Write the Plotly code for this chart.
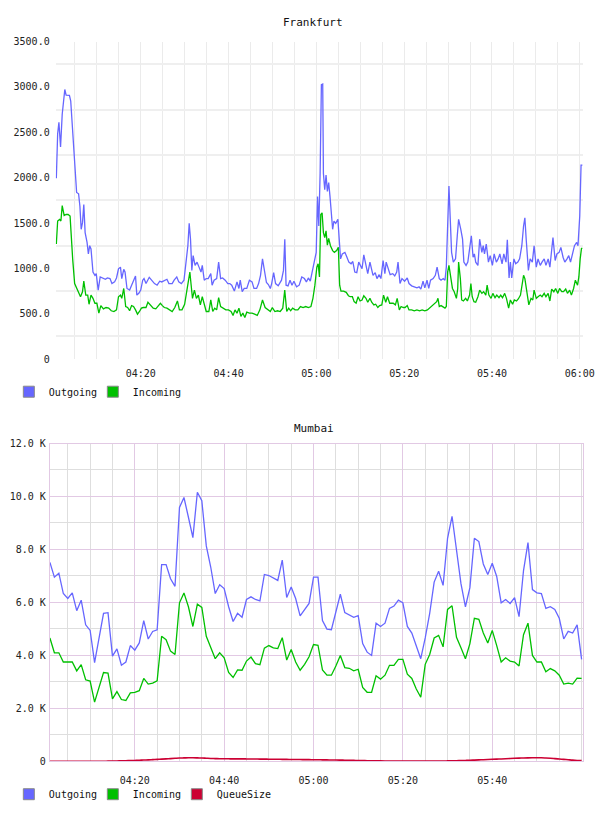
import plotly.graph_objects as go
from datetime import datetime, timedelta

# ---------------------------------------------------------------- data
BASE = datetime(2013, 1, 1, 4, 0)

# Frankfurt - minutes after 04:00 and values
fra_out_min = [
    0.75, 1.05, 1.34, 1.71, 2.09, 2.68, 2.98, 3.73, 4.03, 4.47,
    4.77, 5.07, 5.37, 5.82, 6.12, 6.41, 6.71, 7.01, 7.31, 7.75,
    8.05, 8.35, 8.65, 9.10, 9.54, 9.84, 10.29, 10.74, 11.41, 11.93,
    12.38, 12.97, 13.42, 14.02, 14.46, 14.91, 15.36, 15.66, 16.11, 16.40,
    16.85, 17.45, 17.90, 18.34, 18.79, 19.09, 19.54, 19.98, 20.43, 20.73,
    21.18, 21.92, 22.52, 23.12, 23.71, 24.31, 24.76, 25.35, 25.95, 26.40,
    27.14, 27.59, 28.19, 28.64, 29.23, 29.83, 30.28, 30.72, 31.02, 31.32,
    31.62, 31.92, 32.36, 32.81, 33.26, 33.71, 34.00, 34.45, 34.90, 35.35,
    35.94, 36.24, 36.69, 37.28, 37.73, 38.18, 38.63, 39.22, 39.82, 40.27,
    40.71, 41.31, 41.91, 42.35, 42.65, 43.10, 43.55, 44.14, 44.74, 45.34,
    45.78, 46.38, 46.83, 47.27, 47.72, 48.17, 48.62, 49.06, 49.51, 49.81,
    50.26, 50.70, 51.30, 52.05, 52.50, 52.80, 53.09, 53.54, 53.99, 54.44,
    54.88, 55.48, 56.08, 56.67, 57.27, 57.72, 58.17, 58.61, 59.06, 59.51,
    59.96, 60.26, 60.55, 60.85, 61.14, 61.44, 61.60, 61.90, 62.20, 62.50,
    62.80, 63.10, 63.40, 63.70, 64.00, 64.40, 64.90, 65.20, 65.50, 65.90,
    66.50, 66.96, 67.40, 67.90, 68.30, 68.75, 69.20, 69.65, 69.95, 70.40,
    70.80, 71.30, 71.70, 72.20, 72.60, 72.90, 73.40, 73.80, 74.30, 74.70,
    75.20, 75.60, 75.90, 76.40, 76.80, 77.40, 77.85, 78.30, 78.60, 79.05,
    79.50, 80.10, 80.70, 81.10, 81.70, 82.30, 82.90, 83.40, 83.80, 84.30,
    84.70, 85.20, 85.60, 86.00, 86.60, 87.10, 87.50, 88.00, 88.40, 88.90,
    89.30, 89.60, 89.90, 90.20, 90.50, 90.80, 91.20, 91.70, 92.10, 92.40,
    92.90, 93.30, 93.60, 94.10, 94.50, 95.00, 95.30, 95.70, 96.00, 96.30,
    96.80, 97.20, 97.70, 98.00, 98.30, 98.70, 99.20, 99.60, 100.10, 100.50,
    101.00, 101.40, 101.80, 102.30, 102.70, 103.20, 103.50, 103.90, 104.20, 104.50,
    105.00, 105.40, 105.90, 106.30, 106.80, 107.20, 107.50, 107.80, 108.30, 108.70,
    109.20, 109.60, 110.10, 110.50, 111.00, 111.40, 111.90, 112.30, 112.80, 113.20,
    113.50, 113.90, 114.40, 114.80, 115.30, 115.70, 116.20, 116.60, 117.10, 117.50,
    117.90, 118.40, 118.80, 119.30, 119.60, 120.00, 120.30, 120.60,
]
fra_out_val = [
    1993, 2482, 2609, 2337, 2699, 2971, 2909, 2906, 2844, 2482,
    2337, 2047, 1837, 1822, 1685, 1431, 1504, 1703, 1395, 1286,
    1159, 1250, 1214, 960, 924, 942, 761, 906, 895, 880,
    895, 888, 833, 851, 895, 996, 1014, 888, 989, 960,
    779, 761, 815, 859, 917, 706, 725, 761, 870, 888,
    833, 902, 870, 833, 815, 859, 851, 870, 880, 833,
    833, 870, 906, 851, 833, 870, 1069, 1250, 1496, 1322,
    978, 1141, 1033, 1069, 1014, 960, 1033, 870, 888, 888,
    942, 815, 870, 888, 1069, 888, 895, 870, 833, 833,
    815, 750, 851, 779, 870, 743, 779, 779, 870, 851,
    779, 779, 833, 924, 1105, 953, 844, 822, 779, 833,
    953, 833, 808, 870, 978, 1322, 815, 808, 870, 815,
    859, 797, 815, 906, 888, 851, 895, 859, 960, 1069,
    1177, 1793, 1467, 2047, 3025, 3032, 2047, 1866, 2029, 1848,
    1946, 1793, 1612, 1431, 1522, 1496, 1540, 1322, 1105, 1159,
    1177, 1123, 1069, 1051, 1076, 960, 953, 1069, 1033, 996,
    1149, 1051, 942, 1069, 996, 924, 953, 888, 931, 888,
    1087, 942, 1069, 978, 931, 942, 917, 960, 1069, 833,
    888, 859, 895, 833, 808, 797, 786, 797, 772, 859,
    786, 870, 779, 870, 888, 924, 1014, 888, 870, 888,
    870, 1014, 1540, 1909, 1540, 1177, 1069, 1105, 1359, 1540,
    1431, 1322, 1069, 1033, 1069, 1250, 1359, 1123, 1159, 1069,
    1033, 1322, 1177, 1250, 1159, 1268, 1069, 1141, 1033, 1159,
    1069, 1105, 1159, 1051, 1159, 1069, 1315, 895, 1069, 895,
    1105, 1051, 1069, 1105, 1250, 1467, 1558, 1322, 978, 1105,
    1069, 1250, 1014, 1105, 1033, 1069, 1105, 1033, 1105, 1014,
    1177, 1340, 1087, 1159, 1177, 1232, 1123, 1069, 1105, 1141,
    1069, 1159, 1250, 1286, 1250, 1576, 2138, 2138,
]

fra_in_min = [
    0.75, 1.05, 1.49, 1.79, 2.09, 2.53, 2.98, 3.43, 3.88, 4.18,
    4.47, 4.92, 5.37, 5.82, 6.26, 6.71, 7.01, 7.46, 7.90, 8.20,
    8.65, 9.10, 9.54, 9.99, 10.44, 10.89, 11.48, 12.08, 12.68, 13.27,
    13.87, 14.46, 14.91, 15.36, 15.66, 16.11, 16.55, 17.00, 17.45, 17.90,
    18.34, 18.79, 19.24, 19.69, 20.13, 20.58, 21.18, 21.62, 22.22, 22.82,
    23.41, 23.86, 24.46, 24.91, 25.35, 25.95, 26.55, 27.14, 27.74, 28.34,
    28.79, 29.38, 29.98, 30.43, 30.87, 31.17, 31.47, 31.77, 32.21, 32.66,
    33.11, 33.56, 34.00, 34.45, 34.90, 35.50, 35.94, 36.39, 36.84, 37.28,
    37.73, 38.18, 38.78, 39.37, 39.97, 40.56, 41.01, 41.46, 41.91, 42.35,
    42.80, 43.25, 43.70, 44.14, 44.74, 45.34, 45.93, 46.53, 47.12, 47.72,
    48.32, 48.91, 49.51, 49.96, 50.55, 51.15, 51.75, 52.34, 52.79, 53.24,
    53.69, 54.14, 54.58, 55.18, 55.78, 56.37, 56.97, 57.57, 58.17, 58.76,
    59.21, 59.66, 60.10, 60.40, 60.70, 61.00, 61.30, 61.60, 61.90, 62.20,
    62.50, 62.80, 63.20, 63.70, 64.10, 64.60, 65.00, 65.30, 65.60, 66.20,
    66.80, 67.30, 67.70, 68.20, 68.60, 69.05, 69.50, 69.95, 70.40, 70.80,
    71.30, 71.70, 72.20, 72.60, 73.10, 73.50, 74.00, 74.40, 74.90, 75.30,
    75.80, 76.20, 76.70, 77.10, 77.50, 78.00, 78.40, 78.90, 79.30, 79.80,
    80.20, 80.70, 81.10, 81.70, 82.30, 82.90, 83.50, 84.10, 84.70, 85.30,
    85.90, 86.50, 86.90, 87.40, 87.70, 88.00, 88.40, 88.90, 89.30, 89.60,
    89.90, 90.20, 90.50, 91.00, 91.40, 91.90, 92.20, 92.40, 92.80, 93.10,
    93.50, 94.00, 94.40, 94.90, 95.20, 95.50, 95.90, 96.30, 96.80, 97.20,
    97.70, 98.10, 98.60, 98.90, 99.30, 99.80, 100.20, 100.70, 101.10, 101.60,
    102.00, 102.40, 102.90, 103.30, 103.80, 104.20, 104.70, 105.10, 105.60, 106.00,
    106.50, 106.90, 107.20, 107.50, 108.00, 108.40, 108.90, 109.30, 109.60, 110.10,
    110.50, 111.00, 111.40, 111.90, 112.30, 112.80, 113.20, 113.60, 114.10, 114.50,
    115.00, 115.40, 115.90, 116.30, 116.80, 117.20, 117.70, 118.10, 118.60, 119.00,
    119.50, 119.80, 120.10, 120.40, 120.60,
]
fra_in_val = [
    1268, 1522, 1540, 1522, 1692, 1583, 1594, 1594, 1576, 1250,
    1105, 833, 786, 743, 688, 743, 859, 706, 706, 605,
    706, 670, 616, 616, 507, 590, 554, 569, 562, 533,
    525, 543, 688, 706, 670, 779, 580, 569, 533, 590,
    580, 543, 496, 525, 562, 569, 569, 627, 590, 562,
    554, 580, 616, 590, 569, 562, 543, 525, 569, 641,
    543, 543, 605, 743, 888, 960, 815, 670, 761, 670,
    706, 598, 688, 598, 525, 525, 652, 525, 562, 543,
    677, 580, 562, 543, 543, 525, 482, 543, 507, 562,
    471, 507, 460, 518, 507, 507, 496, 482, 543, 652,
    569, 543, 525, 569, 525, 533, 525, 562, 761, 525,
    562, 533, 562, 543, 543, 580, 569, 580, 569, 580,
    670, 815, 1014, 1051, 906, 1594, 1612, 1395, 1340, 1413,
    1257, 1330, 1250, 1196, 1177, 1196, 1232, 815, 750, 750,
    736, 699, 688, 688, 634, 616, 688, 641, 652, 699,
    670, 627, 670, 627, 598, 605, 569, 590, 598, 706,
    627, 688, 616, 616, 616, 598, 670, 543, 580, 569,
    569, 590, 543, 543, 533, 543, 533, 543, 533, 543,
    569, 598, 616, 634, 670, 580, 590, 569, 562, 580,
    960, 1033, 924, 779, 743, 670, 779, 1069, 888, 652,
    641, 670, 641, 706, 833, 688, 634, 627, 688, 761,
    725, 743, 706, 815, 706, 670, 725, 677, 706, 677,
    706, 677, 725, 670, 562, 652, 605, 652, 641, 663,
    706, 815, 924, 888, 743, 598, 670, 652, 761, 670,
    688, 706, 688, 725, 688, 725, 641, 772, 743, 779,
    725, 779, 743, 743, 772, 725, 761, 706, 779, 870,
    815, 906, 1105, 1221, 1221,
]

# Mumbai - one sample per minute starting 04:01
mum_start_min = 1
mum_out = [
    7514, 6955, 7104, 6335, 6148, 6360, 5689, 6086, 5155, 4943,
    3726, 4595, 5589, 5614, 3974, 4248, 3627, 3751, 4372, 4198,
    4471, 5316, 4620, 4906, 4968, 7427, 7427, 6893, 6608, 9588,
    9961, 9216, 8446, 10160, 9837, 8135, 7328, 6335, 6670, 6521,
    5837, 5279, 5589, 5440, 6111, 6210, 6111, 6061, 7055, 7017,
    6930, 6831, 7601, 6185, 6583, 6148, 5490, 5713, 5962, 6955,
    6955, 5320, 4993, 4968, 5651, 6309, 5614, 5527, 5440, 5502,
    4446, 4123, 3999, 5216, 5092, 5216, 5775, 5862, 6086, 5986,
    5092, 4844, 4372, 3875, 4658, 5589, 6769, 7179, 6645, 8421,
    9253, 7887, 6707, 5837, 6558, 8421, 8297, 7452, 7055, 7477,
    6980, 5986, 6111, 5962, 6185, 5465, 7204, 8259, 6483, 6360,
    6335, 5775, 5837, 5738, 5403, 4620, 4906, 4844, 5155, 3850,
]
mum_in = [
    4658, 4099, 4099, 3751, 3751, 3751, 3416, 3652, 3080, 3031,
    2236, 2795, 3354, 3329, 2360, 2633, 2335, 2298, 2583, 2608,
    2670, 3130, 2919, 2956, 3043, 4720, 4595, 4161, 4037, 5986,
    6360, 5837, 5092, 5937, 5813, 4720, 4285, 3875, 4099, 3912,
    3354, 3167, 3453, 3440, 3788, 3937, 3689, 3652, 4273, 4372,
    4285, 4260, 4670, 3825, 4223, 3751, 3440, 3664, 3950, 4409,
    4384, 3450, 3254, 3254, 3602, 3999, 3540, 3515, 3416, 3478,
    2795, 2608, 2608, 3229, 3105, 3254, 3627, 3627, 3850, 3850,
    3291, 3130, 2732, 2422, 3664, 4037, 4658, 4757, 4322, 5738,
    5875, 4682, 4285, 3875, 4446, 5403, 5365, 4844, 4471, 4943,
    4372, 3751, 3912, 3788, 3751, 3602, 4782, 5216, 3999, 3751,
    3751, 3379, 3503, 3416, 3254, 2919, 2956, 2919, 3142, 3130,
]
mum_queue = [
    5, 5, 5, 5, 5, 5, 5, 5, 5, 5,
    5, 5, 5, 8, 10, 15, 20, 25, 30, 35,
    40, 50, 55, 65, 75, 85, 95, 105, 115, 125,
    130, 135, 135, 130, 125, 118, 110, 105, 100, 98,
    96, 95, 95, 94, 92, 90, 88, 86, 84, 82,
    80, 78, 76, 74, 72, 70, 68, 66, 64, 62,
    60, 58, 55, 52, 50, 47, 44, 40, 36, 32,
    28, 25, 22, 20, 18, 16, 15, 14, 13, 12,
    12, 12, 12, 12, 12, 12, 13, 14, 15, 17,
    20, 25, 30, 35, 40, 48, 55, 62, 70, 78,
    85, 92, 100, 108, 115, 122, 128, 133, 136, 137,
    135, 128, 118, 105, 90, 75, 60, 45, 35, 28,
]

series_names = ["Outgoing", "Incoming", "QueueSize"]

fra_y_ticks = [0, 500, 1000, 1500, 2000, 2500, 3000, 3500]
fra_y_labels = ["0", "500.0", "1000.0", "1500.0", "2000.0", "2500.0", "3000.0", "3500.0"]
fra_x_tick_min = [20, 40, 60, 80, 100, 120]
fra_x_labels = ["04:20", "04:40", "05:00", "05:20", "05:40", "06:00"]

mum_y_ticks = [0, 2000, 4000, 6000, 8000, 10000, 12000]
mum_y_labels = ["0", "2.0 K", "4.0 K", "6.0 K", "8.0 K", "10.0 K", "12.0 K"]
mum_x_tick_min = [20, 40, 60, 80, 100]
mum_x_labels = ["04:20", "04:40", "05:00", "05:20", "05:40"]

# ---------------------------------------------------------------- style
W, H = 608, 816
MONO = "DejaVu Sans Mono"
BLUE = "#6666ff"
GREEN = "#00c000"
RED = "#cc0033"
FRA_GRID = "#ebebeb"
MUM_MAJOR = "#e2c9e4"
MUM_MINOR = "#dedede"


def at(m):
    return BASE + timedelta(minutes=m)


def ts(mins):
    return [at(m) for m in mins]


def fx(p):
    return p / W


def fy(p):
    return 1 - p / H


fig = go.Figure()

# Frankfurt lines
fig.add_trace(go.Scatter(x=ts(fra_out_min), y=fra_out_val, mode="lines",
                         line=dict(color=BLUE, width=1.3), showlegend=False,
                         xaxis="x", yaxis="y", hoverinfo="skip"))
fig.add_trace(go.Scatter(x=ts(fra_in_min), y=fra_in_val, mode="lines",
                         line=dict(color=GREEN, width=1.3), showlegend=False,
                         xaxis="x", yaxis="y", hoverinfo="skip"))

# Mumbai lines
mum_t = ts([mum_start_min + i for i in range(len(mum_out))])
fig.add_trace(go.Scatter(x=mum_t, y=mum_out, mode="lines",
                         line=dict(color=BLUE, width=1.3), showlegend=False,
                         xaxis="x2", yaxis="y2", hoverinfo="skip"))
fig.add_trace(go.Scatter(x=mum_t, y=mum_in, mode="lines",
                         line=dict(color=GREEN, width=1.3), showlegend=False,
                         xaxis="x2", yaxis="y2", hoverinfo="skip"))
fig.add_trace(go.Scatter(x=mum_t, y=mum_queue, mode="lines",
                         line=dict(color=RED, width=1.6, shape="spline"), showlegend=False,
                         xaxis="x2", yaxis="y2", hoverinfo="skip"))

# legend swatches (square boxes like the original)
fra_leg = list(zip(series_names[:2], [BLUE, GREEN]))
for i, (name, col) in enumerate(fra_leg):
    fig.add_trace(go.Scatter(x=[None], y=[None], mode="markers", name=name,
                             marker=dict(symbol="square", size=11, color=col,
                                         line=dict(color="#8a8a8a", width=1)),
                             legend="legend", xaxis="x", yaxis="y",
                             legendwidth=(70 if i == len(fra_leg) - 1 else 39)))
mum_leg = list(zip(series_names, [BLUE, GREEN, RED]))
for i, (name, col) in enumerate(mum_leg):
    fig.add_trace(go.Scatter(x=[None], y=[None], mode="markers", name=name,
                             marker=dict(symbol="square", size=11, color=col,
                                         line=dict(color="#8a8a8a", width=1)),
                             legend="legend2", xaxis="x2", yaxis="y2",
                             legendwidth=(70 if i == len(mum_leg) - 1 else 39)))

tickfont = dict(family=MONO, size=10, color="#222222")

fig.update_layout(
    width=W, height=H, autosize=False,
    margin=dict(l=0, r=0, t=0, b=0),
    paper_bgcolor="white", plot_bgcolor="white",
    font=dict(family=MONO, size=10, color="#222222"),
    hovermode=False,
    xaxis=dict(
        domain=[fx(56.7), fx(594)], anchor="y", type="date",
        range=[at(0.6), at(120.8)],
        tickmode="array", tickvals=ts(fra_x_tick_min), ticktext=fra_x_labels,
        showgrid=True, gridcolor=FRA_GRID, gridwidth=1,
        minor=dict(dtick=5 * 60 * 1000, tick0=BASE, showgrid=True,
                   gridcolor=FRA_GRID, gridwidth=1),
        ticks="", showline=False, zeroline=False, tickfont=tickfont,
        ticklabelstandoff=7,
    ),
    yaxis=dict(
        domain=[fy(359), fy(37)], anchor="x",
        range=[0, 3500],
        tickmode="array", tickvals=fra_y_ticks, ticktext=fra_y_labels,
        showgrid=False,
        minor=dict(tick0=250, dtick=500, showgrid=True, gridcolor="#efefef", gridwidth=2),
        ticks="", showline=False, zeroline=False, tickfont=tickfont,
        ticklabelstandoff=5,
    ),
    xaxis2=dict(
        domain=[fx(50.7), fx(594)], anchor="y2", type="date",
        range=[at(0.97), at(120.37)],
        tickmode="array", tickvals=ts(mum_x_tick_min), ticktext=mum_x_labels,
        showgrid=True, gridcolor=MUM_MAJOR, gridwidth=1,
        minor=dict(dtick=5 * 60 * 1000, tick0=BASE, showgrid=True,
                   gridcolor=MUM_MINOR, gridwidth=1),
        ticks="", showline=True, linecolor=MUM_MAJOR, linewidth=1, mirror=True,
        zeroline=False, tickfont=tickfont, ticklabelstandoff=10,
    ),
    yaxis2=dict(
        domain=[fy(766.7), fy(444.5)], anchor="x2",
        range=[0, 12000],
        tickmode="array", tickvals=mum_y_ticks, ticktext=mum_y_labels,
        showgrid=True, gridcolor=MUM_MAJOR, gridwidth=1,
        minor=dict(tick0=1000, dtick=2000, showgrid=True, gridcolor=MUM_MINOR, gridwidth=1),
        ticks="", showline=True, linecolor=MUM_MAJOR, linewidth=1, mirror=True,
        zeroline=False, tickfont=tickfont, ticklabelstandoff=1,
    ),
    legend=dict(orientation="h", x=fx(9), xanchor="left", y=fy(392), yanchor="middle",
                font=dict(family=MONO, size=10, color="#111111"),
                bgcolor="rgba(0,0,0,0)", itemwidth=30, tracegroupgap=0),
    legend2=dict(orientation="h", x=fx(9), xanchor="left", y=fy(800), yanchor="middle",
                 font=dict(family=MONO, size=10, color="#111111"),
                 bgcolor="rgba(0,0,0,0)", itemwidth=30, tracegroupgap=0),
    annotations=[
        dict(text="Frankfurt", x=fx(319), y=fy(18), xref="paper", yref="paper",
             xanchor="center", yanchor="middle", showarrow=False,
             font=dict(family=MONO, size=11, color="#111111")),
        dict(text="Mumbai", x=fx(320), y=fy(429), xref="paper", yref="paper",
             xanchor="center", yanchor="middle", showarrow=False,
             font=dict(family=MONO, size=11, color="#111111")),
    ],
)

fig.write_html("out.html")
